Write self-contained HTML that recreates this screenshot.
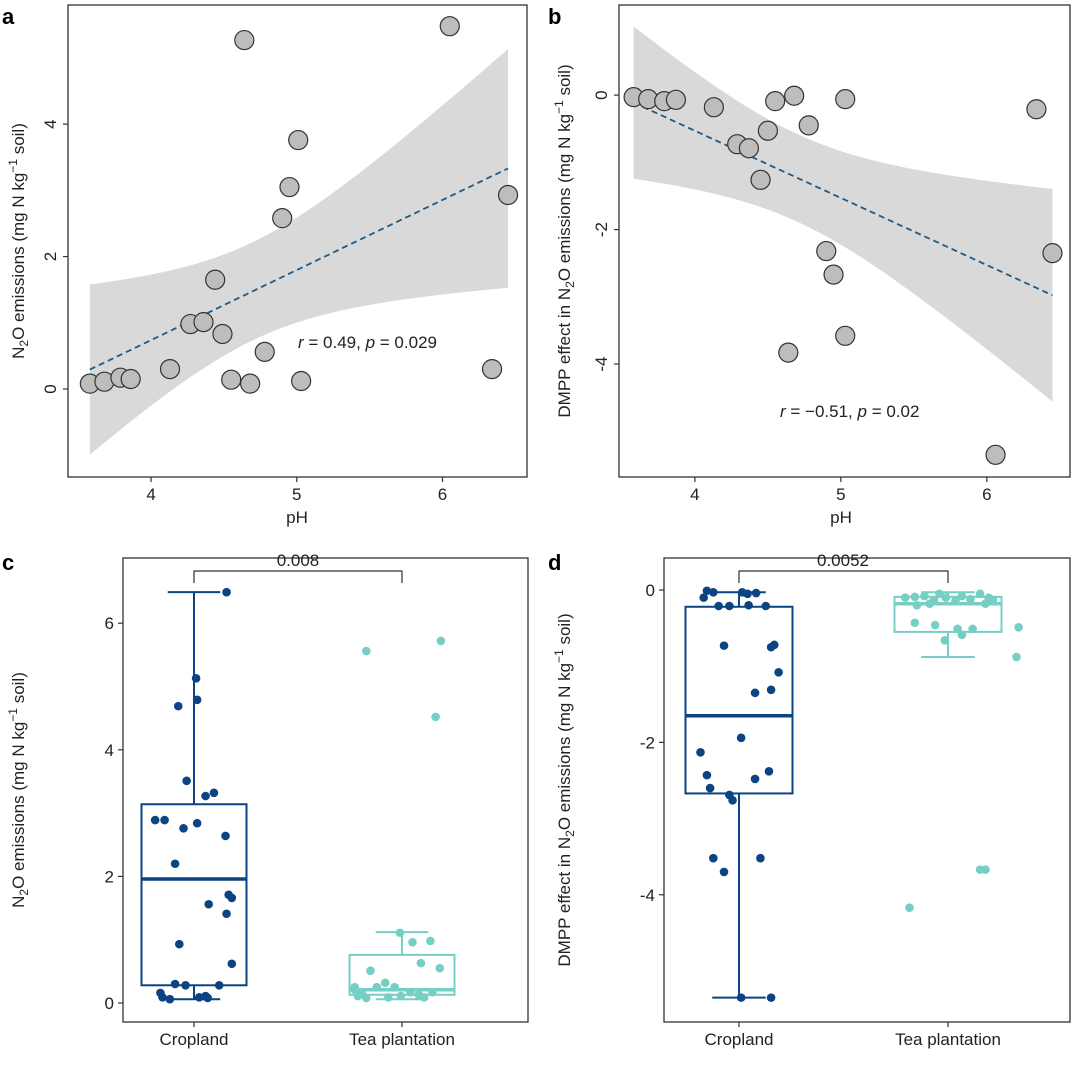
<!DOCTYPE html>
<html><head><meta charset="utf-8"><style>
body{margin:0;background:#fff}
svg{display:block;font-family:"Liberation Sans",Arial,sans-serif}
</style></head><body>
<svg id="s" width="1080" height="1065" viewBox="0 0 1080 1065"></svg>
<script>
// ---- data ----
const phA=[3.58,3.68,3.79,3.86,4.13,4.27,4.36,4.49,4.44,4.55,4.68,4.78,4.90,4.95,5.01,5.03,4.64,6.05,6.34,6.45];
const n2oA=[0.08,0.11,0.17,0.15,0.30,0.98,1.01,0.83,1.65,0.14,0.08,0.56,2.58,3.05,3.76,0.12,5.27,5.48,0.30,2.93];
const phB=[3.58,3.68,3.79,3.87,4.13,4.29,4.37,4.45,4.50,4.55,4.68,4.78,4.90,4.95,5.03,5.03,4.64,6.06,6.34,6.45];
const dmppB=[-0.03,-0.06,-0.09,-0.07,-0.18,-0.73,-0.79,-1.26,-0.53,-0.09,-0.01,-0.45,-2.32,-2.67,-3.58,-0.06,-3.83,-5.35,-0.21,-2.35];
const ticksPH=[4,5,6];
const ticksA=[0,2,4];
const ticksB=[0,-2,-4];
const ticksC=[0,2,4,6];
const ticksD=[0,-2,-4];
const groups=["Cropland","Tea plantation"];
// box stats: [lowWhisker,q1,median,q3,highWhisker]
const boxC=[[0.06,0.28,1.96,3.14,6.49],[0.06,0.13,0.21,0.76,1.12]];
const boxD=[[-5.35,-2.67,-1.65,-0.22,-0.03],[-0.88,-0.55,-0.18,-0.09,-0.03]];
const cCropVal=[6.49,5.13,4.79,4.69,3.51,3.32,3.27,2.89,2.89,2.84,2.76,2.64,2.2,1.71,1.66,1.56,1.41,0.93,0.62,0.30,0.28,0.28,0.16,0.11,0.09,0.09,0.06,0.08];
const cCropJit=[.31,.02,.03,-.15,-.07,.19,.11,-.37,-.28,.03,-.10,.30,-.18,.33,.36,.14,.31,-.14,.36,-.18,-.08,.24,-.32,.11,-.30,.05,-.23,.13];
const cTeaVal=[5.56,5.72,4.52,1.11,0.98,0.96,0.51,0.63,0.55,0.32,0.25,0.25,0.25,0.21,0.17,0.14,0.17,0.13,0.14,0.11,0.09,0.11,0.09,0.08];
const cTeaJit=[-.34,.37,.32,-.02,.27,.1,-.3,.18,.36,-.16,-.07,-.24,-.45,-.45,.08,-.38,.29,.16,-.4,-.42,-.13,-.01,.21,-.34];
const dCropVal=[-0.01,-.03,-.03,-.05,-.04,-.1,-.21,-.21,-.21,-.2,-.73,-.72,-.75,-1.08,-1.31,-1.35,-1.94,-2.13,-2.38,-2.43,-2.48,-2.6,-2.69,-2.76,-3.52,-3.52,-3.7,-5.35,-5.35];
const dCropJit=[-.3,-.24,.03,.08,.16,-.33,-.19,-.09,.25,.09,-.14,.33,.3,.37,.3,.15,.02,-.36,.28,-.3,.15,-.27,-.09,-.06,-.24,.2,-.14,.02,.3];
const dTeaVal=[-.1,-.09,-.08,-.13,-.05,-.1,-.14,-.08,-.12,-.05,-.1,-.13,-.2,-.18,-.18,-.43,-.46,-.51,-.51,-.49,-.66,-.59,-.88,-4.17,-3.67,-3.67];
const dTeaJit=[-.4,-.31,-.22,-.13,-.08,-.02,.07,.13,.21,.3,.38,.42,-.29,-.17,.35,-.31,-.12,.09,.23,.66,-.03,.13,.64,-.36,.3,.35];

const S=document.getElementById('s');const NS='http://www.w3.org/2000/svg';
function mk(t,a,p){const e=document.createElementNS(NS,t);for(const k in a)e.setAttribute(k,a[k]);(p||S).appendChild(e);return e;}
function lin(d0,d1,r0,r1){return v=>r0+(v-d0)/(d1-d0)*(r1-r0);}
function frame(x0,y0,x1,y1,name){const r=mk('rect',{x:x0,y:y0,width:x1-x0,height:y1-y0,fill:'none',stroke:'#333','stroke-width':1.3});
}
function yTicks(ticks,ys,x0,rot,name){const g=mk('g',{});
ticks.forEach(t=>{const y=ys(t);mk('line',{x1:x0-5,x2:x0,y1:y,y2:y,stroke:'#333','stroke-width':1.2},g);
const tx=mk('text',{x:rot?x0-12:x0-9,y:rot?y:y+6,'font-size':17,fill:'#222','text-anchor':rot?'middle':'end',transform:rot?`rotate(-90 ${x0-12} ${y})`:''},g);tx.textContent=String(t);});}
function xTicks(ticks,xs,y0,name,labels){const g=mk('g',{});
ticks.forEach((t,i)=>{const x=xs(t);mk('line',{x1:x,x2:x,y1:y0,y2:y0+5,stroke:'#333','stroke-width':1.2},g);
const tx=mk('text',{x:x,y:y0+23,'font-size':17,fill:'#222','text-anchor':'middle'},g);tx.textContent=labels?labels[i]:String(t);});}
function yLabel(x,y,pre,name){const t=mk('text',{x:x,y:y,'font-size':17,fill:'#222','text-anchor':'middle',transform:`rotate(-90 ${x} ${y})`});

t.innerHTML=pre+'N<tspan font-size="12" baseline-shift="-4">2</tspan>O emissions (mg N kg<tspan font-size="12" baseline-shift="7">−1</tspan> soil)';}
function txt(x,y,s,a,name){const t=mk('text',Object.assign({x:x,y:y,'font-size':17,fill:'#222'},a||{}));t.innerHTML=s;
return t;}

function scatterPanel(X,Y,xs,ys,x0,x1,key){
 const n=X.length,mx=X.reduce((a,b)=>a+b)/n,my=Y.reduce((a,b)=>a+b)/n;
 let sxx=0,sxy=0;X.forEach((x,i)=>{sxx+=(x-mx)**2;sxy+=(x-mx)*(Y[i]-my);});
 const b=sxy/sxx,a=my-b*mx;let sse=0;X.forEach((x,i)=>{sse+=(Y[i]-a-b*x)**2;});const s=Math.sqrt(sse/(n-2)),t=2.101;
 const lo=Math.min(...X),hi=Math.max(...X);let up=[],dn=[];
 for(let k=0;k<=40;k++){const x=lo+(hi-lo)*k/40,f=a+b*x,se=s*Math.sqrt(1/n+(x-mx)**2/sxx);
 up.push(xs(x)+','+ys(f+t*se));dn.unshift(xs(x)+','+ys(f-t*se));}
 const band=mk('polygon',{points:up.concat(dn).join(' '),fill:'#d9d9d9'});
 
 const ln=mk('line',{x1:xs(lo),y1:ys(a+b*lo),x2:xs(hi),y2:ys(a+b*hi),stroke:'#1f5a85','stroke-width':1.8,'stroke-dasharray':'6,4'});
 
 X.forEach((x,i)=>{const c=mk('circle',{cx:xs(x),cy:ys(Y[i]),r:9.5,fill:'#bdbdbd',stroke:'#333','stroke-width':1.2});
 });
}
// Panel a
{const xs=lin(3.43,6.58,68,527),ys=lin(-1.33,5.8,477,5);
scatterPanel(phA,n2oA,xs,ys,68,527,'panel-a');frame(68,5,527,477,'panel-a-frame');
yTicks(ticksA,ys,68,true,'panel-a-y-ticks');xTicks(ticksPH,xs,477,'panel-a-x-ticks');
yLabel(24,241,'','panel-a-y-title');txt(297,523,'pH',{'text-anchor':'middle'},'panel-a-x-title');
txt(298,348,'<tspan font-style="italic">r</tspan> = 0.49, <tspan font-style="italic">p</tspan> = 0.029',{},'panel-a-stats');
txt(2,24,'a',{'font-size':22,'font-weight':'bold',fill:'#000'},'panel-a-label');}
// Panel b
{const xs=lin(3.48,6.57,619,1070),ys=lin(-5.68,1.34,477,5);
scatterPanel(phB,dmppB,xs,ys,619,1070,'panel-b');frame(619,5,1070,477,'panel-b-frame');
yTicks(ticksB,ys,619,true,'panel-b-y-ticks');xTicks(ticksPH,xs,477,'panel-b-x-ticks');
yLabel(570,241,'DMPP effect in ','panel-b-y-title');txt(841,523,'pH',{'text-anchor':'middle'},'panel-b-x-title');
txt(780,417,'<tspan font-style="italic">r</tspan> = −0.51, <tspan font-style="italic">p</tspan> = 0.02',{},'panel-b-stats');
txt(548,24,'b',{'font-size':22,'font-weight':'bold',fill:'#000'},'panel-b-label');}

const cols=['#0b4383','#76cfc4'];
function boxPanel(x0,x1,y0,y1,ys,box,vals,jits,key,cx,bw){
 box.forEach((st,i)=>{const c=cols[i],x=cx[i];const g=mk('g',{});
 mk('line',{x1:x,x2:x,y1:ys(st[4]),y2:ys(st[3]),stroke:c,'stroke-width':2},g);
 mk('line',{x1:x,x2:x,y1:ys(st[1]),y2:ys(st[0]),stroke:c,'stroke-width':2},g);
 mk('line',{x1:x-bw/4,x2:x+bw/4,y1:ys(st[4]),y2:ys(st[4]),stroke:c,'stroke-width':2},g);
 mk('line',{x1:x-bw/4,x2:x+bw/4,y1:ys(st[0]),y2:ys(st[0]),stroke:c,'stroke-width':2},g);
 mk('rect',{x:x-bw/2,y:ys(st[3]),width:bw,height:ys(st[1])-ys(st[3]),fill:'none',stroke:c,'stroke-width':2},g);
 mk('line',{x1:x-bw/2,x2:x+bw/2,y1:ys(st[2]),y2:ys(st[2]),stroke:c,'stroke-width':3.5},g);});
 vals.forEach((arr,i)=>arr.forEach((v,j)=>{const p=mk('circle',{cx:cx[i]+jits[i][j]*bw,cy:ys(v),r:4.3,fill:cols[i]});
 }));
 frame(x0,y0,x1,y1,key+'-frame');
}
// Panel c
{const ys=lin(-0.3,7.03,1022,558),cx=[194,402];
boxPanel(123,528,558,1022,ys,boxC,[cCropVal,cTeaVal],[cCropJit,cTeaJit],'panel-c',cx,105);
yTicks(ticksC,ys,123,false,'panel-c-y-ticks');
xTicks([0,1],i=>cx[i],1022,'panel-c-x-ticks',groups);
yLabel(24,790,'','panel-c-y-title');
const br=mk('path',{d:`M${cx[0]} 583V571H${cx[1]}V583`,fill:'none',stroke:'#333','stroke-width':1.2});
txt(298,566,'0.008',{'text-anchor':'middle'},'panel-c-p-value');
txt(2,570,'c',{'font-size':22,'font-weight':'bold',fill:'#000'},'panel-c-label');}
// Panel d
{const ys=lin(-5.67,0.42,1022,558),cx=[739,948];
boxPanel(664,1070,558,1022,ys,boxD,[dCropVal,dTeaVal],[dCropJit,dTeaJit],'panel-d',cx,107);
yTicks(ticksD,ys,664,false,'panel-d-y-ticks');
xTicks([0,1],i=>cx[i],1022,'panel-d-x-ticks',groups);
yLabel(570,790,'DMPP effect in ','panel-d-y-title');
const br=mk('path',{d:`M${cx[0]} 583V571H${cx[1]}V583`,fill:'none',stroke:'#333','stroke-width':1.2});
txt(843,566,'0.0052',{'text-anchor':'middle'},'panel-d-p-value');
txt(548,570,'d',{'font-size':22,'font-weight':'bold',fill:'#000'},'panel-d-label');}
</script>
</body></html>
